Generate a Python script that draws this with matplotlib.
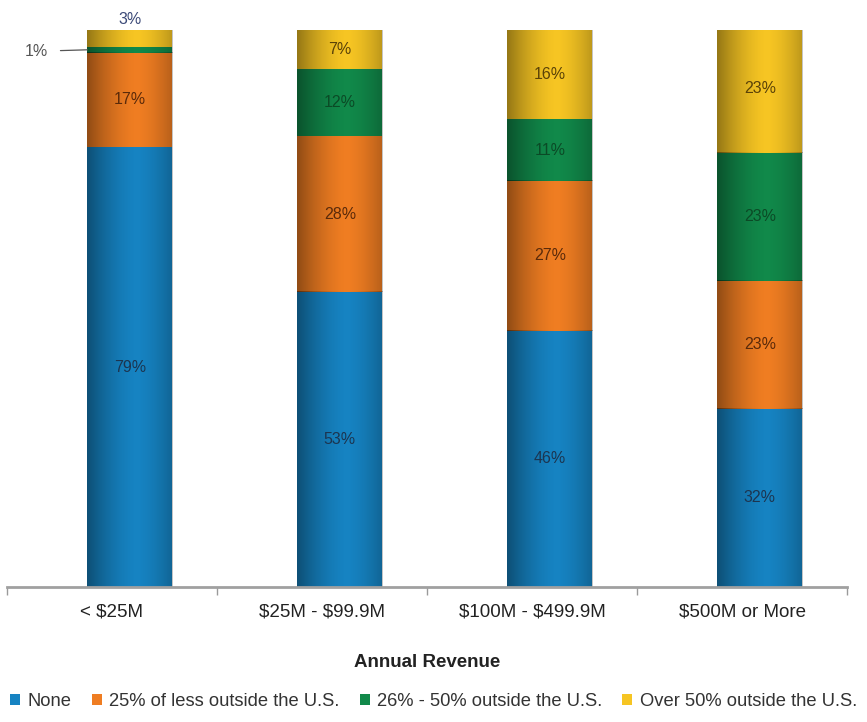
import numpy as np
import matplotlib
matplotlib.use("Agg")
import matplotlib.pyplot as plt
from matplotlib.patches import Patch

plt.rcParams['font.family'] = ['Liberation Sans', 'DejaVu Sans']
plt.rcParams['text.parse_math'] = False

categories = ["< $25M", "$25M - $99.9M", "$100M - $499.9M", "$500M or More"]
series_names = ["None", "25% of less outside the U.S.",
                "26% - 50% outside the U.S.", "Over 50% outside the U.S."]
none_pct = [79, 53, 46, 32]
le25_pct = [17, 28, 27, 23]
mid_pct = [1, 12, 11, 23]
over50_pct = [3, 7, 16, 23]

series = [none_pct, le25_pct, mid_pct, over50_pct]
colors = ["#1683c2", "#ef7d22", "#11894a", "#f6c523"]
text_colors = ["#1c3550", "#5a2a0a", "#0b4a26", "#5a4208"]

fig = plt.figure(figsize=(8.67, 7.22), dpi=100)
ax = fig.add_axes([0.008, 0.187, 0.969, 0.771])

x = np.arange(len(categories))
bar_x = x + 0.085
width = 0.405
ymax = 100

# cylinder-style shading profile across each bar
t = np.linspace(0, 1, 200)
shade = 0.40 * (np.abs(t - 0.58) / 0.58) ** 1.6
overlay = np.zeros((1, t.size, 4))
overlay[0, :, 3] = shade

bottom = np.zeros(len(categories))
for vals, col, tcol in zip(series, colors, text_colors):
    vals = np.asarray(vals, dtype=float)
    bars = ax.bar(bar_x, vals, width, bottom=bottom, color=col, edgecolor='none', zorder=2)
    for b, v, b0, xi in zip(bars, vals, bottom, bar_x):
        top = min(b0 + v, ymax)
        ax.imshow(overlay, extent=(xi - width / 2, xi + width / 2, b0, top),
                  aspect='auto', zorder=3, interpolation='bilinear')
        if v >= 5:
            ax.text(xi, b0 + v / 2, f"{int(v)}%", ha='center', va='center',
                    fontsize=11.5, color=tcol, zorder=4)
    bottom += vals

# small segments of the first bar are labelled outside it
cum1 = none_pct[0] + le25_pct[0]
ax.annotate(f"{mid_pct[0]}%", xy=(bar_x[0] - width / 2, cum1 + mid_pct[0] / 2),
            xytext=(-0.36, cum1 + mid_pct[0] / 2), ha='center', va='center_baseline',
            fontsize=11.5, color='#555555',
            arrowprops=dict(arrowstyle='-', color='#555555', lw=0.9, shrinkA=7, shrinkB=0))
ax.text(bar_x[0], ymax + 1.9, f"{over50_pct[0]}%", ha='center', va='center',
        fontsize=11.5, color='#3c4a78', clip_on=False)

ax.set_xlim(-0.5, len(categories) - 0.5)
ax.set_ylim(0, ymax)
ax.set_yticks([])
ax.set_xticks(x)
ax.set_xticklabels(categories, fontsize=13.5, color='#222222')
ax.set_xticks(np.arange(-0.5, len(categories)), minor=True)
ax.tick_params(axis='x', which='major', length=0, pad=12)
ax.tick_params(axis='x', which='minor', length=6, color='#9a9a9a', width=1)
for side in ['top', 'right', 'left']:
    ax.spines[side].set_visible(False)
ax.spines['bottom'].set_color('#a0a0a0')
ax.spines['bottom'].set_linewidth(2)
ax.spines['bottom'].set_zorder(5)

ax.set_xlabel("Annual Revenue", fontsize=13.5, fontweight='bold', color='#222222', labelpad=24)

handles = [Patch(facecolor=c, edgecolor='none') for c in colors]
fig.legend(handles, series_names, loc='center', bbox_to_anchor=(0.5, 0.028), ncol=4,
           frameon=False, fontsize=13.2, handlelength=0.55, handleheight=0.55,
           handletextpad=0.4, columnspacing=1.1, labelcolor='#333333')

fig.savefig("out.png", dpi=100, facecolor='white')
